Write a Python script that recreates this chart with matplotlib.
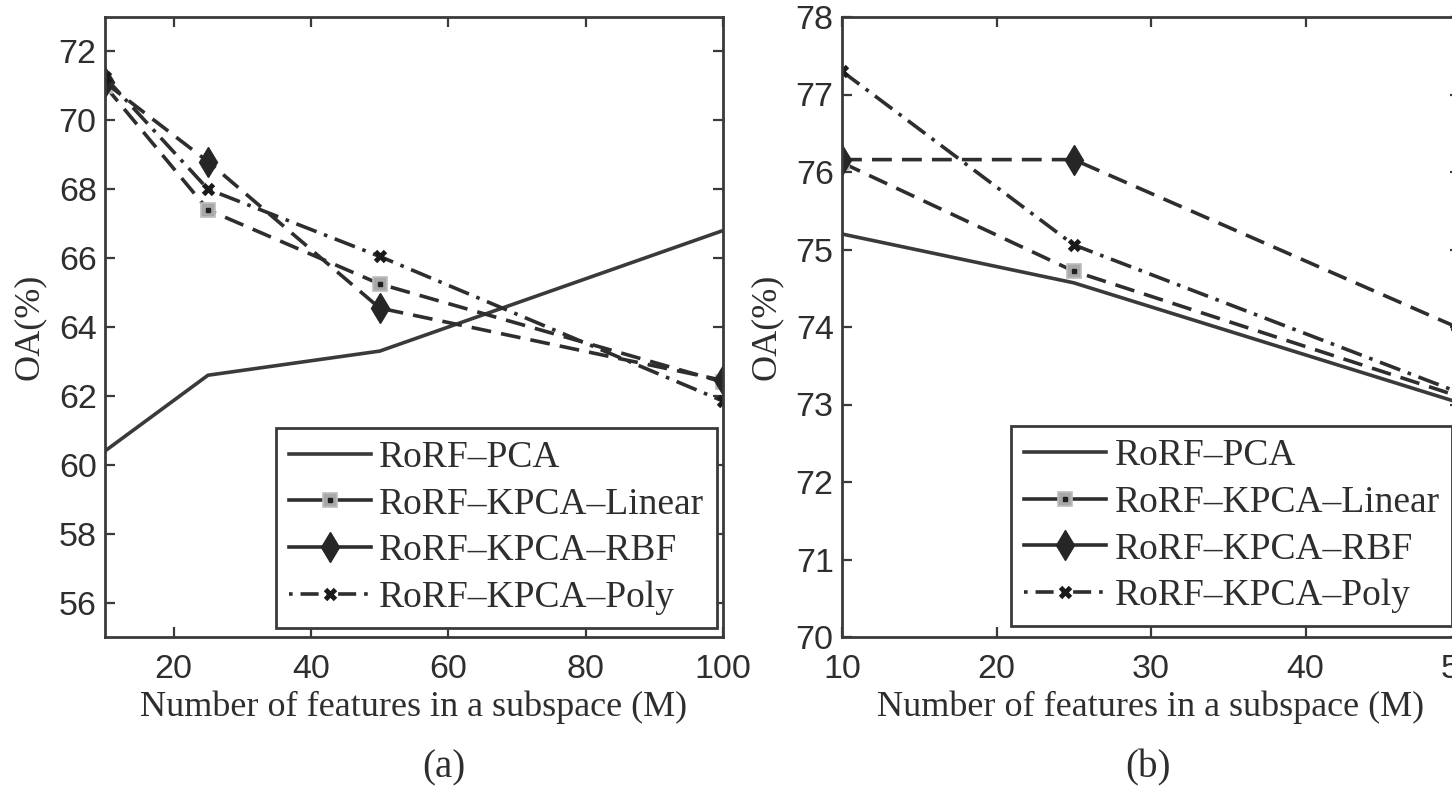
import matplotlib
matplotlib.use("Agg")
import matplotlib.pyplot as plt
from matplotlib.lines import Line2D
from matplotlib.legend_handler import HandlerTuple

# panel (a) data
m_a = [10, 25, 50, 100]
pca_a = [60.4, 62.6, 63.3, 66.8]
lin_a = [71.0, 67.4, 65.25, 62.4]
rbf_a = [71.1, 68.8, 64.55, 62.45]
poly_a = [71.25, 68.0, 66.05, 61.85]

# panel (b) data
m_b = [10, 25, 50]
pca_b = [75.2, 74.57, 73.02]
lin_b = [76.12, 74.72, 73.1]
rbf_b = [76.16, 76.16, 73.98]
poly_b = [77.3, 75.06, 73.15]

labels = ["RoRF\u2013PCA", "RoRF\u2013KPCA\u2013Linear",
          "RoRF\u2013KPCA\u2013RBF", "RoRF\u2013KPCA\u2013Poly"]

ink = "#2e2e2e"
serif = "Liberation Serif"
sans = "Liberation Sans"
LW = 2.6

fig = plt.figure(figsize=(14.52, 7.92), dpi=100)
ax_a = fig.add_axes([105 / 1452, 1 - 637 / 792, 618 / 1452, 620 / 792])
ax_b = fig.add_axes([842 / 1452, 1 - 637 / 792, 618 / 1452, 620 / 792])

sq = dict(marker="s", ms=10, mfc="#a8a8a8", mec="#bdbdbd", mew=1.2)
dot = dict(marker="s", ms=3, color="#202020")
dia = dict(marker="d", ms=15, mfc="#262626", mec="#262626")
crs = dict(marker="x", ms=7, mew=3.5, mec="#1a1a1a")


def draw(ax, m, pca, lin, rbf, poly):
    ax.plot(m, pca, "-", color="#3a3a3a", lw=LW)
    ax.plot(m, lin, color=ink, lw=LW, dashes=(5.5, 2.8), **sq)
    ax.plot(m, lin, ls="none", **dot)
    ax.plot(m, rbf, color=ink, lw=LW, dashes=(5.5, 2.8), **dia)
    ax.plot(m, poly, color=ink, lw=LW, dashes=(6, 2.2, 1, 2.2), **crs)


def style(ax, xlim, ylim, xticks, yticks):
    ax.set_xlim(*xlim)
    ax.set_ylim(*ylim)
    ax.set_xticks(xticks)
    ax.set_yticks(yticks)
    for s in ax.spines.values():
        s.set_linewidth(2)
        s.set_color("#3a3a3a")
    ax.tick_params(direction="in", top=True, right=True, length=7, width=1.6,
                   colors="#3a3a3a", labelcolor=ink, labelsize=24.5)
    ax.tick_params(axis="x", pad=12)
    ax.tick_params(axis="y", pad=6)
    for t in ax.get_xticklabels() + ax.get_yticklabels():
        t.set_fontfamily(sans)
    ax.set_xlabel("Number of features in a subspace (M)", fontsize=26,
                  family=serif, color=ink, labelpad=4)
    ax.set_ylabel("OA(%)", fontsize=26, family=serif, color=ink, labelpad=9)


# legend proxies (style only)
handles = [
    Line2D([], [], color="#3a3a3a", lw=LW),
    (Line2D([], [], color=ink, lw=LW, **sq), Line2D([], [], ls="none", **dot)),
    Line2D([], [], color=ink, lw=LW, **dia),
    Line2D([], [], color=ink, lw=LW, dashes=(1, 2.2, 5, 2.2), **crs),
]


def legend(ax, anchor):
    leg = ax.legend(handles, labels, loc="lower right", bbox_to_anchor=anchor,
                    borderaxespad=0, fancybox=False, framealpha=1,
                    edgecolor="#3a3a3a", handlelength=2.2, handletextpad=0.22,
                    labelspacing=0.33, borderpad=0.33,
                    prop={"family": serif, "size": 27},
                    handler_map={tuple: HandlerTuple(ndivide=1, pad=0)})
    leg.get_frame().set_linewidth(2)
    for t in leg.get_texts():
        t.set_color(ink)
    return leg


draw(ax_a, m_a, pca_a, lin_a, rbf_a, poly_a)
style(ax_a, (10, 100), (55, 73), [20, 40, 60, 80, 100], list(range(56, 73, 2)))
legend(ax_a, (0.99, 0.015))

draw(ax_b, m_b, pca_b, lin_b, rbf_b, poly_b)
style(ax_b, (10, 50), (70, 78), [10, 20, 30, 40, 50], list(range(70, 79)))
legend(ax_b, (0.987, 0.018))

fig.text(444 / 1452, 1 - 768 / 792, "(a)", ha="center", va="center",
         fontsize=28, family=serif, color=ink)
fig.text(1148 / 1452, 1 - 768 / 792, "(b)", ha="center", va="center",
         fontsize=28, family=serif, color=ink)

fig.savefig("out.png", dpi=100, facecolor="white")
